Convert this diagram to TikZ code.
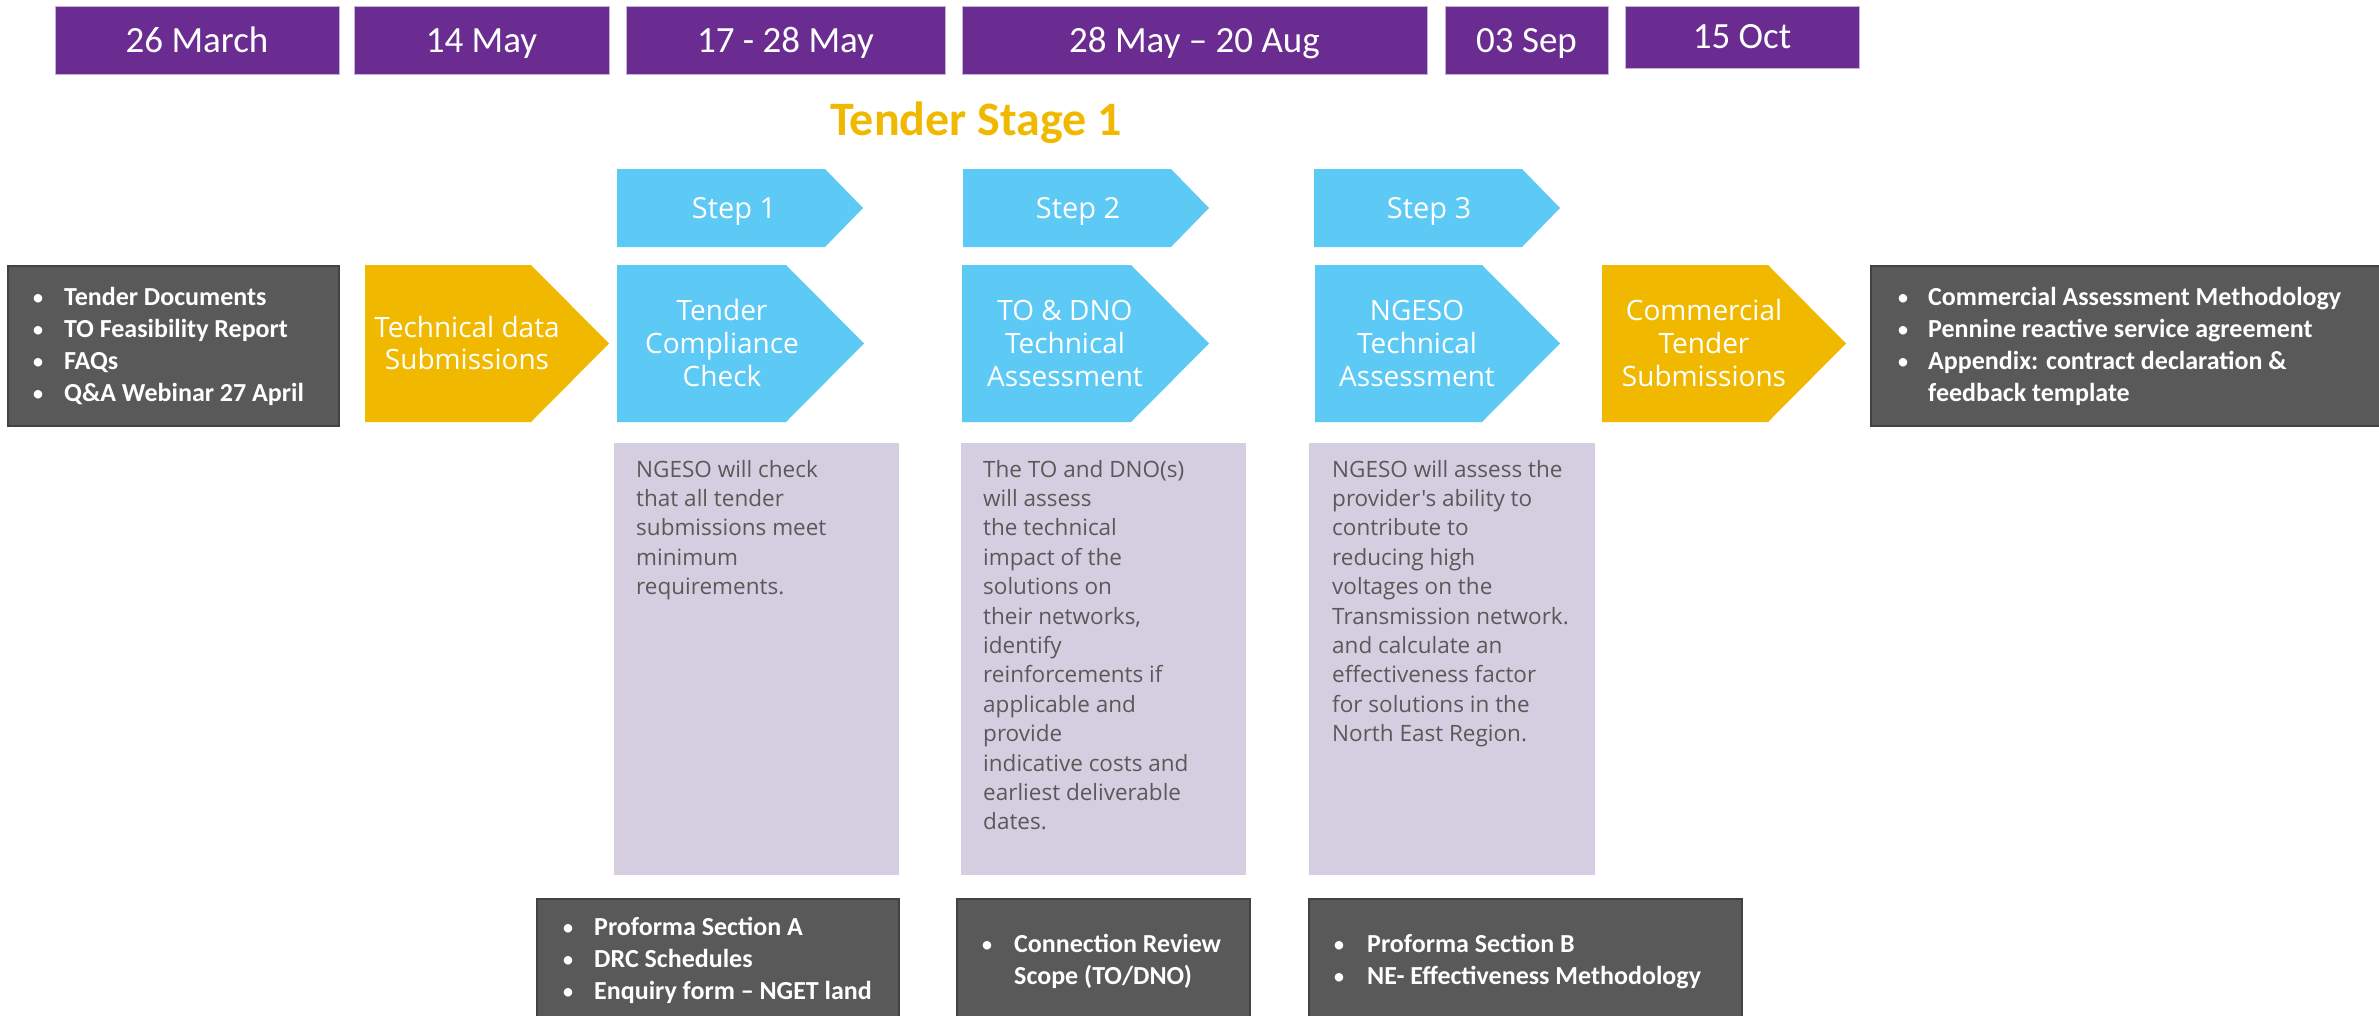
\documentclass[tikz,border=0pt]{standalone}
\usepackage{fontspec}
\setmainfont{Carlito}
\newfontfamily\segoe{Open Sans}
\definecolor{purp}{RGB}{106,44,145}
\definecolor{purpedge}{RGB}{196,178,216}
\definecolor{skyb}{RGB}{93,201,245}
\definecolor{goldc}{RGB}{240,185,0}
\definecolor{lav}{RGB}{213,206,224}
\definecolor{darkg}{RGB}{89,89,89}
\definecolor{darkedge}{RGB}{66,66,66}
\definecolor{greytext}{RGB}{89,89,89}

% left-aligned lines: name, x, first baseline, line step, style, list
\newcommand\leftlines[6]{%
  \foreach \t [count=\i from 0] in {#6}{%
    \node[#5,anchor=base west,inner sep=0pt] (#1-\i) at (#2,{#3+\i*#4}) {\t};}}
% centred lines: name, x, first baseline, line step, style, list
\newcommand\centerlines[6]{%
  \foreach \t [count=\i from 0] in {#6}{%
    \node[#5,anchor=base,inner sep=0pt] (#1-\i) at (#2,{#3+\i*#4}) {\t};}}
% bullet list: name, bullet x, text x, first baseline, list
\newcommand\bulletlist[5]{%
  \foreach \t [count=\i from 0] in {#5}{%
    \node[bulmark] (#1-b\i) at (#2,{#4+\i*32}) {•};
    \node[bultext] (#1-t\i) at (#3,{#4+\i*32}) {\t};}}
% chevron: x, y, width, height, depth, colour
\newcommand\chevron[6]{%
  \fill[#6] (#1,#2) -- ++({#3-#5},0) -- ++(#5,{#4/2}) -- ++(-#5,{#4/2}) -- ++({-(#3-#5)},0) -- cycle;}

\begin{document}
\begin{tikzpicture}[x=1pt,y=-1pt,
  datebox/.style={fill=purp,draw=purpedge,line width=1pt},
  datetext/.style={text=white,font=\fontsize{37}{44}\selectfont,inner sep=0pt,anchor=base},
  chevtext/.style={text=white,font=\segoe\fontsize{28}{33}\selectfont},
  steptext/.style={text=white,font=\segoe\fontsize{29}{34}\selectfont},
  lavbox/.style={fill=lav},
  lavtext/.style={text=greytext,font=\segoe\fontsize{22.5}{29}\selectfont},
  darkbox/.style={fill=darkg,draw=darkedge,line width=2pt},
  bultext/.style={text=white,font=\bfseries\fontsize{26}{32}\selectfont,anchor=base west,inner sep=0pt},
  bulmark/.style={text=white,font=\fontsize{24}{32}\selectfont,anchor=base west,inner sep=0pt}]
\clip (0,0) rectangle (2379,1015);
\fill[white] (0,0) rectangle (2379,1015);

% ---- date boxes ----
\draw[datebox] (55,6) rectangle (339,74);
\draw[datebox] (354,6) rectangle (609,74);
\draw[datebox] (626,6) rectangle (945,74);
\draw[datebox] (962,6) rectangle (1427,74);
\draw[datebox] (1445,6) rectangle (1608,74);
\draw[datebox] (1625,6) rectangle (1859,68);
\node[datetext] (d1) at (197,52) {26 March};
\node[datetext] (d2) at (481.5,52) {14 May};
\node[datetext] (d3) at (785.5,52) {17 - 28 May};
\node[datetext] (d4) at (1194.5,52) {28 May – 20 Aug};
\node[datetext] (d5) at (1526.5,52) {03 Sep};
\node[datetext] (d6) at (1742,48) {15 Oct};

% ---- title ----
\node[text=goldc,font=\bfseries\fontsize{48}{56}\selectfont,anchor=base,inner sep=0pt] (title) at (976,135) {Tender Stage 1};

% ---- step arrows ----
\chevron{617}{169}{246}{78}{38}{skyb}
\chevron{963}{169}{246}{78}{38}{skyb}
\chevron{1314}{169}{246}{78}{38}{skyb}
\node[steptext,anchor=base,inner sep=0pt] (s1) at (734,218) {Step 1};
\node[steptext,anchor=base,inner sep=0pt] (s2) at (1078,218) {Step 2};
\node[steptext,anchor=base,inner sep=0pt] (s3) at (1429,218) {Step 3};

% ---- main chevrons ----
\chevron{365}{265}{244}{157}{78}{goldc}
\chevron{617}{265}{247}{157}{78}{skyb}
\chevron{962}{265}{247}{157}{78}{skyb}
\chevron{1315}{265}{245}{157}{78}{skyb}
\chevron{1602}{265}{244}{157}{78}{goldc}
\centerlines{tech}{467}{337}{32}{chevtext}{Technical data,Submissions}
\centerlines{tcc}{722}{320}{33}{chevtext}{Tender,Compliance,Check}
\centerlines{tod}{1065}{320}{33}{chevtext}{TO \& DNO,Technical,Assessment}
\centerlines{ngt}{1417}{320}{33}{chevtext}{NGESO,Technical,Assessment}
\centerlines{com}{1704}{320}{33}{chevtext}{Commercial,Tender,Submissions}

% ---- dark boxes beside chevrons ----
\draw[darkbox] (8,266) rectangle (339,426);
\bulletlist{lb}{32}{64}{305}{Tender Documents,TO Feasibility Report,FAQs,Q\&A Webinar 27 April}
\draw[darkbox] (1871,266) rectangle (2395,426);
\bulletlist{rb}{1897}{1928}{305}{Commercial Assessment Methodology,Pennine reactive service agreement,Appendix: contract declaration \&}
\node[bultext] (rb-t3) at (1928,401) {feedback template};

% ---- lavender description boxes ----
\fill[lavbox] (614,443) rectangle (899,875);
\fill[lavbox] (961,443) rectangle (1246,875);
\fill[lavbox] (1309,443) rectangle (1595,875);
\leftlines{la}{636}{477}{29.4}{lavtext}{NGESO will check,that all tender,submissions meet,minimum,requirements.}
\leftlines{lb2}{983}{477}{29.4}{lavtext}{The TO and DNO(s),will assess,the technical,impact of the,solutions on,{their networks,},identify,reinforcements if,applicable and,provide,indicative costs and,earliest deliverable,dates.}
\leftlines{lc}{1332}{477}{29.4}{lavtext}{NGESO will assess the,provider's ability to,contribute to,reducing high,voltages on the,Transmission network.,and calculate an,effectiveness factor,for solutions in the,North East Region.}

% ---- bottom dark boxes ----
\draw[darkbox] (537,899) rectangle (899,1030);
\bulletlist{bb1}{562}{594}{935}{Proforma Section A,DRC Schedules,Enquiry form – NGET land}
\draw[darkbox] (957,899) rectangle (1250,1030);
\bulletlist{bb2}{981}{1014}{952}{Connection Review}
\node[bultext] (bb2-t1) at (1014,984) {Scope (TO/DNO)};
\draw[darkbox] (1309,899) rectangle (1742,1030);
\bulletlist{bb3}{1333}{1367}{952}{Proforma Section B,NE- Effectiveness Methodology}
\end{tikzpicture}
\end{document}
